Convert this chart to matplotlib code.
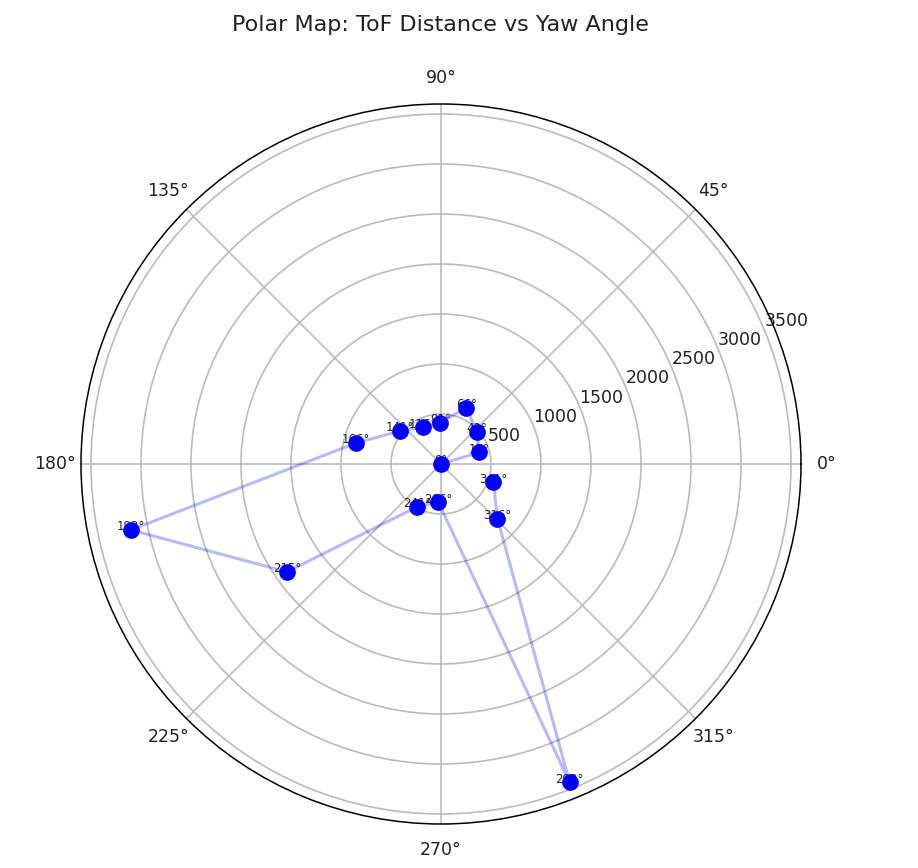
import matplotlib

matplotlib.use("Agg")
import matplotlib.pyplot as plt
import numpy as np

# yaw angle (deg) and ToF distance
yaw_deg = [0, 17, 42, 66, 91, 116, 141, 166, 192, 215, 241, 266, 292, 316, 341]
dist = [0, 398, 482, 617, 410, 411, 525, 873, 3170, 1881, 488, 382, 3432, 785, 554]
r_ticks = [500, 1000, 1500, 2000, 2500, 3000, 3500]

W, H = 918, 868
cx, cy, rad = 441, 464, 360

fig = plt.figure(figsize=(W / 100, H / 100), dpi=100)
ax = fig.add_axes([(cx - rad) / W, 1 - (cy + rad) / H, 2 * rad / W, 2 * rad / H], projection="polar")

theta = np.deg2rad(yaw_deg)
ax.plot(theta, dist, color="blue", lw=2.2, alpha=0.28)
ax.plot(theta, dist, "o", color="blue", ms=11, zorder=4)
for t, d, a in zip(theta, dist, yaw_deg):
    ax.annotate(f"{a}°", (t, d), xytext=(0, -2.5), textcoords="offset points",
                fontsize=8.5, color="#222222", ha="center", va="bottom")

ax.set_rlim(0, 3600)
ax.set_rticks(r_ticks)
ax.tick_params(labelsize=12.5, colors="#222222")
ax.tick_params(axis="x", pad=8)
ax.grid(True, color="#bbbbbb", lw=1.2)
ax.spines["polar"].set_linewidth(1.1)
fig.text(440 / W, 1 - 25 / H, "Polar Map: ToF Distance vs Yaw Angle", fontsize=16, color="#222222", ha="center", va="center")

fig.savefig("out.png", dpi=100)
